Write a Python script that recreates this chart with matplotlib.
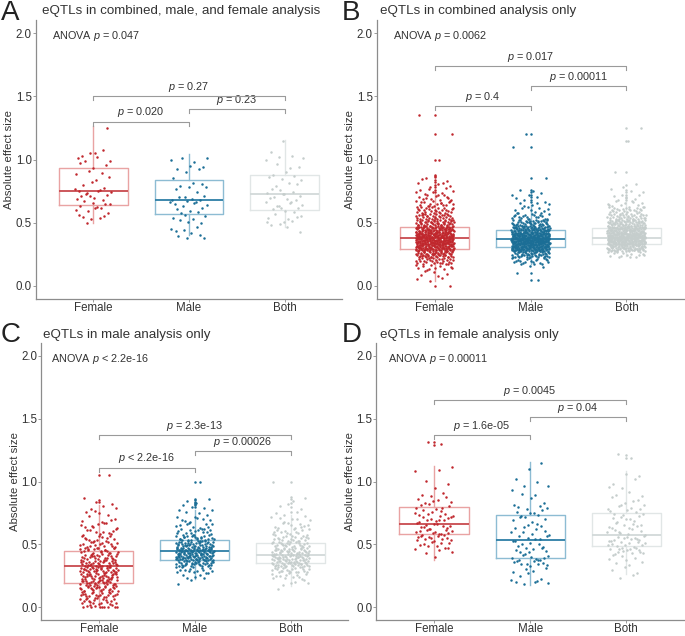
import numpy as np
import matplotlib
matplotlib.use("Agg")
import matplotlib.pyplot as plt

plt.rcParams["font.family"] = ["Liberation Sans", "DejaVu Sans"]
plt.rcParams["mathtext.fontset"] = "custom"
plt.rcParams["mathtext.rm"] = "Liberation Sans"
plt.rcParams["mathtext.it"] = "Liberation Sans:italic"

# ---- data ----
groups = ["Female", "Male", "Both"]
letters = ["A", "B", "C", "D"]
titles = ["eQTLs in combined, male, and female analysis",
          "eQTLs in combined analysis only",
          "eQTLs in male analysis only",
          "eQTLs in female analysis only"]
anova_labels = ["ANOVA $p$ = 0.047", "ANOVA $p$ = 0.0062",
                "ANOVA $p$ < 2.2e-16", "ANOVA $p$ = 0.00011"]

# pairwise tests: (Female-Male, Male-Both, Female-Both)
pairs = [(1, 2), (2, 3), (1, 3)]
pair_labels = [["$p$ = 0.020", "$p$ = 0.23", "$p$ = 0.27"],
               ["$p$ = 0.4", "$p$ = 0.00011", "$p$ = 0.017"],
               ["$p$ < 2.2e-16", "$p$ = 0.00026", "$p$ = 2.3e-13"],
               ["$p$ = 1.6e-05", "$p$ = 0.04", "$p$ = 0.0045"]]
pair_heights = [[1.30, 1.40, 1.50],
                [1.42, 1.58, 1.74],
                [1.11, 1.24, 1.37],
                [1.37, 1.51, 1.645]]

# box statistics per panel (Female, Male, Both)
q1 = [[0.644, 0.570, 0.599], [0.296, 0.306, 0.332],
      [0.195, 0.380, 0.351], [0.580, 0.396, 0.488]]
med = [[0.752, 0.678, 0.726], [0.377, 0.372, 0.383],
       [0.325, 0.451, 0.417], [0.665, 0.536, 0.575]]
q3 = [[0.931, 0.836, 0.876], [0.470, 0.443, 0.462],
      [0.449, 0.536, 0.512], [0.797, 0.736, 0.749]]
whis_lo = [[0.496, 0.406, 0.470], [0.04, 0.17, 0.24],
           [0.00, 0.224, 0.17], [0.377, 0.179, 0.269]]
whis_hi = [[1.261, 1.045, 1.156], [0.73, 0.64, 0.66],
           [0.81, 0.77, 0.73], [1.127, 1.156, 1.082]]

# outliers drawn on the box centre
outliers = [
    [[], [], []],
    [[0.00, 0.74, 0.76, 0.78, 0.80, 0.82, 0.84, 0.86, 0.87, 1.00, 1.20, 1.35],
     [0.05, 0.10, 0.66, 0.68, 0.70, 0.72, 0.74, 0.76, 0.85, 1.10, 1.20],
     [0.68, 0.70, 0.72, 0.74, 0.76, 0.80, 0.90, 1.15, 1.25]],
    [[0.84, 0.85, 1.05],
     [0.80, 0.81, 0.82, 0.83, 0.84, 0.85, 0.86, 1.00],
     [0.76, 0.80, 0.83, 0.86, 0.88, 1.00]],
    [[1.29, 1.31], [], [1.19, 1.21]],
]

# number of points per 0.05-wide bin, bin centres 0.00, 0.05, ..., 1.35
bin_centres = np.arange(28) * 0.05
a_female = [0,0,0,0,0,0,0,0,0,0, 1,5,5,6,6,7,3,2,3,3, 4,4,0,0,0,1,0,0]
a_male   = [0,0,0,0,0,0,0,0,5,4, 3,4,5,7,6,2,5,1,2,3, 4,0,0,0,0,0,0,0]
a_both   = [0,0,0,0,0,0,0,0,0,2, 5,5,5,6,6,5,3,4,2,3, 3,2,0,1,0,0,0,0]
b_female = [1,3,5,12,28,50,85,105,95,70, 45,32,24,18,12,8,5,4,0,0, 1,0,0,0,1,0,0,1]
b_male   = [0,1,1,3,20,45,100,130,110,70, 40,20,10,6,5,3,0,1,0,0, 0,0,1,0,1,0,0,0]
b_both   = [0,0,0,0,0,15,70,110,110,80, 55,35,22,12,6,3,2,0,1,0, 0,0,0,1,0,1,0,0]
c_female = [12,18,22,25,30,30,32,28,24,20, 16,12,10,8,5,4,4,2,0,0, 0,1,0,0,0,0,0,0]
c_male   = [0,0,0,0,2,6,15,35,55,55, 40,25,15,10,8,4,4,3,0,0, 1,0,0,0,0,0,0,0]
c_both   = [0,0,0,1,5,12,22,38,40,32, 25,18,13,10,7,3,3,2,0,0, 1,0,0,0,0,0,0,0]
d_female = [0,0,0,0,0,0,0,0,1,5, 8,12,12,10,10,8,6,6,3,1, 2,0,3,0,0,0,2,0]
d_male   = [0,0,0,0,6,3,4,10,9,6, 7,6,6,5,5,6,5,2,2,3, 2,0,1,1,0,0,0,0]
d_both   = [0,0,0,0,0,2,3,3,5,12, 12,10,8,8,7,6,6,4,3,2, 2,2,0,0,2,0,0,0]
counts = [[a_female, a_male, a_both], [b_female, b_male, b_both],
          [c_female, c_male, c_both], [d_female, d_male, d_both]]

# ---- styling ----
point_colors = ["#C0272D", "#1B6E96", "#C5CDCC"]
box_colors = ["#E9A3A3", "#8DBCD3", "#E1E6E6"]
median_colors = ["#C84A4E", "#2D7EA6", "#D2D9D9"]
text_color = "#333333"
line_gray = "#9A9A9A"

W, H = 685, 636
# axes boxes in pixels: left, right, top, bottom
ax_px = [(36, 342, 20.4, 298.6), (377.1, 684, 20.4, 298.6),
         (41.4, 348, 343.0, 620.0), (376.3, 684, 343.0, 620.0)]
title_px = [(42, 11), (379.7, 11), (42.7, 335), (380, 335)]
letter_px = [(1, 12.5), (342, 12.5), (1, 335), (342, 335)]
anova_x = [0.57, 0.57, 0.50, 0.52]


def halton(k, base):
    # deterministic spread in [0, 1) used for the jitter
    f, r = 1.0, 0.0
    while k > 0:
        f /= base
        r += f * (k % base)
        k //= base
    return r


fig = plt.figure(figsize=(W / 100, H / 100), dpi=100)

for p in range(4):
    l, r, t, b = ax_px[p]
    ax = fig.add_axes([l / W, 1 - b / H, (r - l) / W, (b - t) / H])
    ax.set_xlim(0.4, 3.6)
    ax.set_ylim(-0.1, 2.1)

    stats = []
    for i in range(3):
        stats.append(dict(med=med[p][i], q1=q1[p][i], q3=q3[p][i],
                          whislo=whis_lo[p][i], whishi=whis_hi[p][i], fliers=[]))
    art = ax.bxp(stats, positions=[1, 2, 3], widths=0.72, showcaps=False,
                 showfliers=False, patch_artist=False, manage_ticks=False)
    for i in range(3):
        art["boxes"][i].set(color=box_colors[i], linewidth=1.0)
        art["medians"][i].set(color=median_colors[i], linewidth=1.3)
        for w in art["whiskers"][2 * i:2 * i + 2]:
            w.set(color=box_colors[i], linewidth=1.0)

    for i in range(3):
        ys, xs = [], []
        k = 7 * p + 3 * i
        for c, n in zip(bin_centres, counts[p][i]):
            for j in range(n):
                k += 1
                off = 0.0 if n == 1 else (halton(k, 2) - 0.5) * 0.05
                ys.append(max(c + off, 0.0))
                xs.append(i + 1 + (halton(k, 3) - 0.5) * 0.4)
        ax.scatter(xs, ys, s=3.2, color=point_colors[i], linewidths=0, zorder=3)
        if outliers[p][i]:
            ax.scatter([i + 1] * len(outliers[p][i]), outliers[p][i], s=3.2,
                       color=point_colors[i], linewidths=0, zorder=3)

    for (x1, x2), h, lab in zip(pairs, pair_heights[p], pair_labels[p]):
        ax.plot([x1, x1, x2, x2], [h - 0.032, h, h, h - 0.032],
                color=line_gray, linewidth=0.8, zorder=4)
        ax.text((x1 + x2) / 2, h + 0.018, lab, ha="center", va="bottom",
                fontsize=7.8, color=text_color)

    ax.text(anova_x[p], 1.975, anova_labels[p], ha="left", va="center",
            fontsize=7.8, color=text_color)

    ax.set_xticks([1, 2, 3])
    ax.set_xticklabels(groups)
    ax.set_yticks([0, 0.5, 1.0, 1.5, 2.0])
    ax.set_yticklabels(["0.0", "0.5", "1.0", "1.5", "2.0"])
    ax.tick_params(labelsize=8.3, labelcolor=text_color, color="#8C8C8C",
                   length=2, width=0.6, pad=1)
    ax.tick_params(axis="x", pad=0.5)
    ax.set_ylabel("Absolute effect size", fontsize=8.2, color=text_color, labelpad=1)
    for s in ["top", "right"]:
        ax.spines[s].set_visible(False)
    for s in ["left", "bottom"]:
        ax.spines[s].set_color("#8C8C8C")
        ax.spines[s].set_linewidth(0.9)

    tx, ty = title_px[p]
    fig.text(tx / W, 1 - ty / H, titles[p], ha="left", va="center",
             fontsize=9.6, color=text_color)
    lx, ly = letter_px[p]
    fig.text(lx / W, 1 - ly / H, letters[p], ha="left", va="center",
             fontsize=20, color="#222222")

fig.savefig("out.png", dpi=100)
